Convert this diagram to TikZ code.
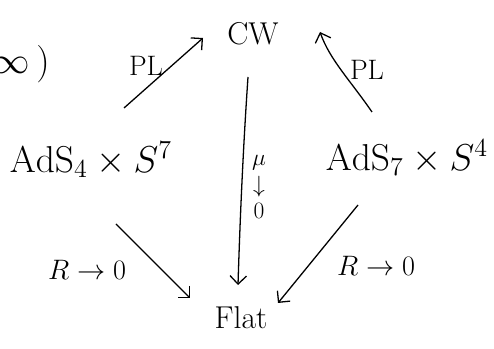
\documentclass[tikz,border=0pt]{standalone}
\usepackage{amsmath}
\usetikzlibrary{arrows.meta}
\tikzset{
  obj/.style={inner sep=0pt, font=\LARGE, scale=1.56, transform shape},
  bigobj/.style={inner sep=0pt, font=\LARGE, scale=1.85, transform shape},
  lbl/.style={inner sep=0pt, font=\LARGE, scale=1.39, transform shape},
  small/.style={inner sep=0pt, font=\LARGE, scale=1.16, transform shape},
  arr/.style={line width=1.1pt, -{Straight Barb[length=7pt,width=14pt,line width=1.1pt]}},
}
\begin{document}
\begin{tikzpicture}[x=0.03cm,y=-0.03cm]
\useasboundingbox (0,0) rectangle (494,349);
\node[bigobj, anchor=east] (inf) at (50,64) {$\infty\,)$};
\node[obj] (cw) at (253,34) {CW};
\node[bigobj] (ads4) at (91,160) {$\mathrm{AdS}_4\times S^7$};
\node[bigobj] (ads7) at (407,158) {$\mathrm{AdS}_7\times S^4$};
\node[obj] (flat) at (241,318) {Flat};
\coordinate (a1s) at (124,108);
\coordinate (a1e) at (203,38);
\coordinate (a2s) at (372,112);
\coordinate (a2e) at (320,32);
\coordinate (a3s) at (248,77);
\coordinate (a3e) at (238,285);
\coordinate (a4s) at (116,224);
\coordinate (a4e) at (190,298);
\coordinate (a5s) at (358,205);
\coordinate (a5e) at (278,303);
\draw[arr] (a1s) -- (a1e);
\draw[arr] (a2s) .. controls (350,80) and (330,60) .. (a2e);
\draw[arr] (a3s) .. controls (243,150) and (240,220) .. (a3e);
\draw[arr] (a4s) -- (a4e);
\draw[arr] (a5s) -- (a5e);
\node[lbl] (pl1) at (146,66) {PL};
\node[lbl] (pl2) at (367,70) {PL};
\node[small] (mu) at (259,163) {$\mu$};
\node[small] (down) at (259,187) {$\downarrow$};
\node[small] (zero) at (259,211) {$0$};
\node[lbl] (r1) at (87,270) {$R\to0$};
\node[lbl] (r2) at (376,266) {$R\to0$};
\end{tikzpicture}
\end{document}
